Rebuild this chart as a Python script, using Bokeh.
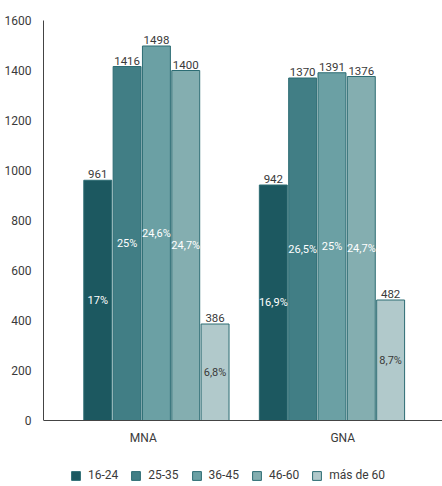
from bokeh.plotting import figure
from bokeh.models import ColumnDataSource, Range1d, FixedTicker, Legend, LegendItem
from bokeh.core.properties import value
from bokeh.embed import file_html
from bokeh.resources import INLINE

categories = ["MNA", "GNA"]
series = ["16-24", "25-35", "36-45", "46-60", "más de 60"]
values_mna = [961, 1416, 1498, 1400, 386]
values_gna = [942, 1370, 1391, 1376, 482]
pct_mna = ["17%", "25%", "24,6%", "24,7%", "6,8%"]
pct_gna = ["16,9%", "26,5%", "25%", "24,7%", "8,7%"]
y_ticks = [0, 200, 400, 600, 800, 1000, 1200, 1400, 1600]

colors = ["#1c5860", "#417e85", "#6ba0a4", "#84aeb0", "#b1c9cb"]
outline = "#2c6c73"
pct_colors = ["white", "white", "white", "white", "#3a3a3a"]
FONT = "Roboto"
TXT = "#3a3a3a"

cat_centers = [0.5, 1.5]
group_shift = [0.066, -0.054]
pitch = 0.147
bw = 0.140

# layout: data area 400px tall for 0..1600, frame extended below 0 to host the legend
Y_MAX = 1600
PLOT_H = 400
EXTRA_H = 66
y_min = -EXTRA_H * Y_MAX / PLOT_H

p = figure(width=442, height=486, frame_width=399, frame_height=PLOT_H + EXTRA_H,
           output_backend="svg", toolbar_location=None,
           x_range=Range1d(0, 2), y_range=Range1d(y_min, Y_MAX),
           min_border_left=43, min_border_right=0, min_border_top=20,
           min_border_bottom=0)
p.outline_line_color = None
p.grid.visible = False
p.background_fill_color = "white"

all_vals = [values_mna, values_gna]
all_pct = [pct_mna, pct_gna]
renderers = []
for si, s in enumerate(series):
    xs, ys, pcts = [], [], []
    for ci in range(len(categories)):
        xs.append(cat_centers[ci] + group_shift[ci] + (si - 2) * pitch)
        ys.append(all_vals[ci][si])
        pcts.append(all_pct[ci][si])
    src = ColumnDataSource(dict(x=xs, top=ys, half=[v / 2 for v in ys],
                                lab=[str(v) for v in ys], pct=pcts))
    r = p.vbar(x="x", top="top", bottom=0, width=bw, source=src, fill_color=colors[si],
               line_color=outline, line_width=1)
    renderers.append(r)
    p.text(x="x", y="top", text="lab", source=src, text_align="center",
           text_baseline="bottom", y_offset=-2, text_font=value(FONT),
           text_font_size="11.5px", text_color=TXT)
    p.text(x="x", y="half", text="pct", source=src, text_align="center",
           text_baseline="middle", text_font=value(FONT),
           text_font_size="11px", text_color=pct_colors[si])

# axes
p.yaxis.ticker = FixedTicker(ticks=y_ticks)
p.yaxis.bounds = (0, Y_MAX)
p.yaxis.major_tick_line_color = None
p.yaxis.minor_tick_line_color = None
p.yaxis.axis_line_color = "#444444"
p.yaxis.major_label_text_font = FONT
p.yaxis.major_label_text_font_size = "12px"
p.yaxis.major_label_text_color = TXT
p.yaxis.major_label_standoff = 6

p.xaxis.fixed_location = 0
p.xaxis.ticker = FixedTicker(ticks=cat_centers)
p.xaxis.major_label_overrides = {cat_centers[i]: categories[i] for i in range(len(categories))}
p.xaxis.major_tick_line_color = None
p.xaxis.minor_tick_line_color = None
p.xaxis.axis_line_color = "#444444"
p.xaxis.major_label_text_font = FONT
p.xaxis.major_label_text_font_size = "12px"
p.xaxis.major_label_text_color = TXT
p.xaxis.major_label_standoff = 4

legend = Legend(items=[LegendItem(label=s, renderers=[r]) for s, r in zip(series, renderers)],
                orientation="horizontal", location=(27, 4),
                glyph_width=11, glyph_height=11, label_height=11,
                label_standoff=7, spacing=12, padding=0, margin=0,
                border_line_color=None, background_fill_alpha=0,
                label_text_font=FONT, label_text_font_size="12px",
                label_text_color=TXT)
p.add_layout(legend, "center")

open("out.html", "w").write(file_html(p, INLINE))
